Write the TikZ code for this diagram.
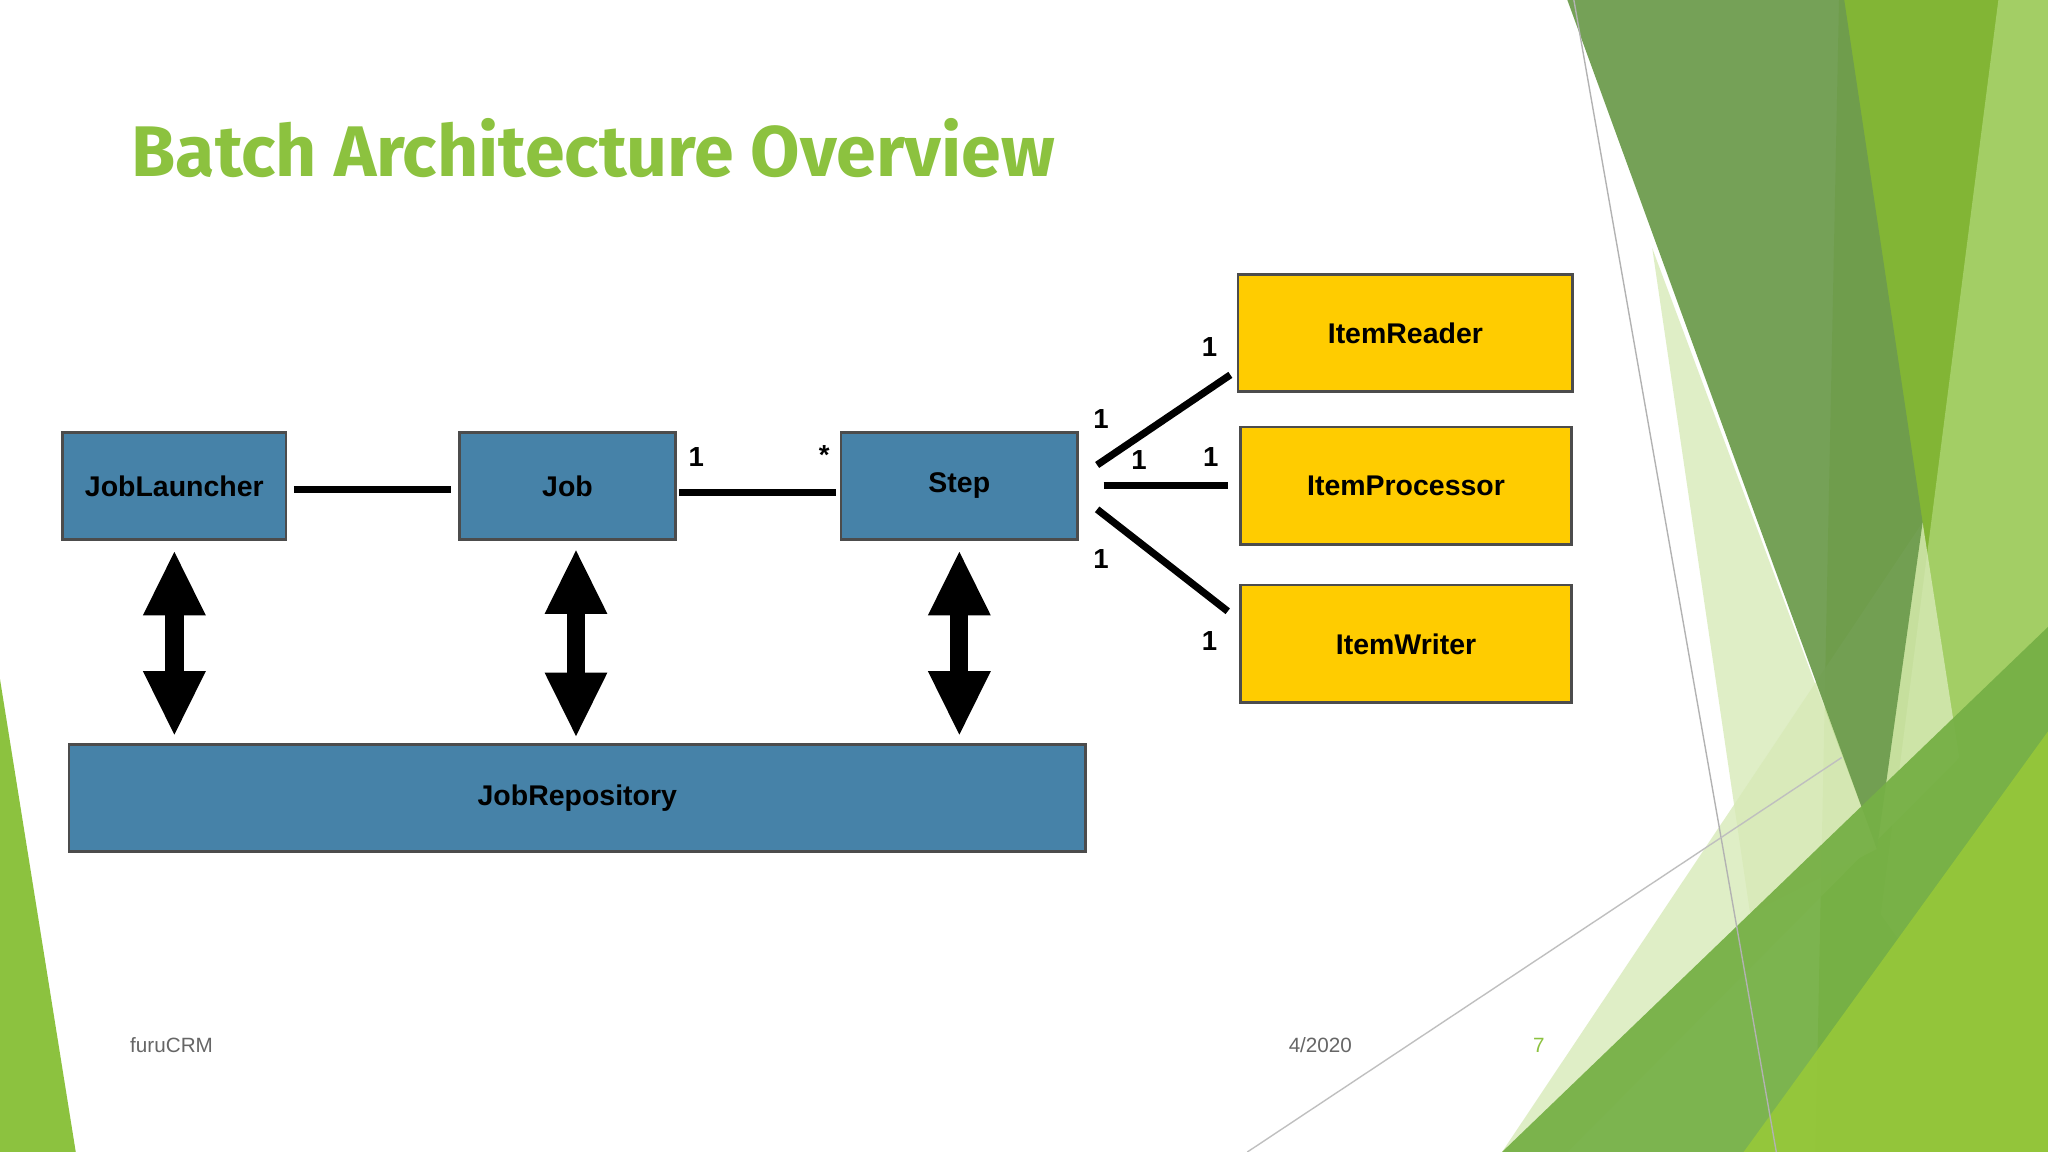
\documentclass[tikz,border=0pt]{standalone}
\usepackage{fontspec}
\setmainfont{Liberation Sans}
\newfontfamily\titlefont{Fira Sans}
\usetikzlibrary{arrows.meta}
\definecolor{boxblue}{HTML}{4682A8}
\definecolor{boxyellow}{HTML}{FFCC00}
\definecolor{titlegreen}{HTML}{8CC23F}
\definecolor{darkleaf}{HTML}{6E9C4E}
\definecolor{brightleaf}{HTML}{82B535}
\definecolor{paleleaf}{HTML}{D8EAB8}
\definecolor{lowleaf}{HTML}{76B046}
\begin{document}
\begin{tikzpicture}[x=0.01cm,y=-0.01cm,
	blue box/.style={draw=black!70, fill=boxblue, line width=0.6pt, inner sep=0pt, font=\fontsize{6.2}{7}\selectfont\bfseries},
	yellow box/.style={draw=black!70, fill=boxyellow, line width=0.6pt, inner sep=0pt, minimum width=2.54cm, minimum height=0.9cm, font=\fontsize{6.2}{7}\selectfont\bfseries},
	link/.style={line width=0.055cm},
	mult/.style={font=\fontsize{6}{7}\selectfont\bfseries},
	fat/.style={line width=0.14cm, {Triangle[width=0.44cm,length=0.5cm]}-{Triangle[width=0.44cm,length=0.5cm]}, shorten <=0.07cm, shorten >=0.05cm},
	footer/.style={anchor=west, inner sep=0pt, text=black!60, font=\fontsize{4.5}{5}\selectfont}]
	
	\useasboundingbox (0,0) rectangle (1568,882);
	\fill [white] (0,0) rectangle (1568,882);
	
	% background leaves
	\fill [titlegreen] (0,520) -- (58,882) -- (0,882) -- cycle;
	\fill [brightleaf] (1408,0) -- (1568,0) -- (1568,882) -- (1390,882) -- cycle;
	\fill [titlegreen!80!white] (1530,0) -- (1568,0) -- (1568,882) -- (1440,700) -- cycle;
	\fill [paleleaf, opacity=0.8] (1265,190) -- (1437,650) -- (1340,700) -- cycle;
	\fill [paleleaf, opacity=0.8] (1472,400) -- (1500,580) -- (1200,882) -- (1150,882) -- cycle;
	\fill [darkleaf, opacity=0.95] (1200,0) -- (1412,0) -- (1472,400) -- (1437,650) -- cycle;
	\fill [lowleaf, opacity=0.95] (1150,882) -- (1568,480) -- (1568,882) -- cycle;
	\fill [titlegreen!90!yellow, opacity=0.9] (1335,882) -- (1568,560) -- (1568,882) -- cycle;
	\draw [black!30, line width=0.3pt] (1205,0) -- (1360,882);
	\draw [black!25, line width=0.3pt] (955,882) -- (1410,580);
	
	% title and footer
	\node [anchor=base west, inner sep=0pt, text=titlegreen, font=\titlefont\fontsize{15.6}{18}\selectfont\bfseries] (title) at (100,135) {Batch Architecture Overview};
	\node [footer] (company) at (99,800) {furuCRM};
	\node [footer] (date) at (986,800) {4/2020};
	\node [footer, text=titlegreen] (page) at (1173,800) {7};
	
	% blue boxes
	\node [blue box, minimum width=1.71cm, minimum height=0.82cm] (launcher) at (133.5,372) {JobLauncher};
	\node [blue box, minimum width=1.65cm, minimum height=0.82cm] (job) at (434.5,372) {Job};
	\node [blue box, minimum width=1.81cm, minimum height=0.82cm] (step) at (734.5,372) {Step};
	\node [blue box, minimum width=7.78cm, minimum height=0.82cm] (repo) at (442,611) {JobRepository};
	
	% yellow boxes
	\node [yellow box, minimum width=2.56cm] (reader) at (1076,255) {ItemReader};
	\node [yellow box, minimum width=2.53cm] (processor) at (1076.5,372) {ItemProcessor};
	\node [yellow box, minimum width=2.53cm] (writer) at (1076.5,493) {ItemWriter};
	
	% connectors
	\draw [link] (225,375) -- (345,375);
	\draw [link] (520,377) -- (640,377);
	\node [mult] (j1) at (533,350) {1};
	\node [mult] (s1) at (631,348) {*};
	
	\coordinate (sr) at (840,356);
	\coordinate (sp) at (845,372);
	\coordinate (sw) at (840,390);
	\coordinate (re) at (942,287);
	\coordinate (pe) at (940,372);
	\coordinate (we) at (940,468);
	\draw [link] (sr) -- (re);
	\draw [link] (sp) -- (pe);
	\draw [link] (sw) -- (we);
	\node [mult] (m1) at (843,321) {1};
	\node [mult] (m2) at (926,266) {1};
	\node [mult] (m3) at (872,352) {1};
	\node [mult] (m4) at (927,350) {1};
	\node [mult] (m5) at (843,428) {1};
	\node [mult] (m6) at (926,491) {1};
	
	% repository arrows
	\draw [fat] (launcher.south) -- (launcher.south |- repo.north);
	\draw [fat] (441,413) -- (441,570);
	\draw [fat] (step.south) -- (step.south |- repo.north);
	
\end{tikzpicture}
\end{document}
